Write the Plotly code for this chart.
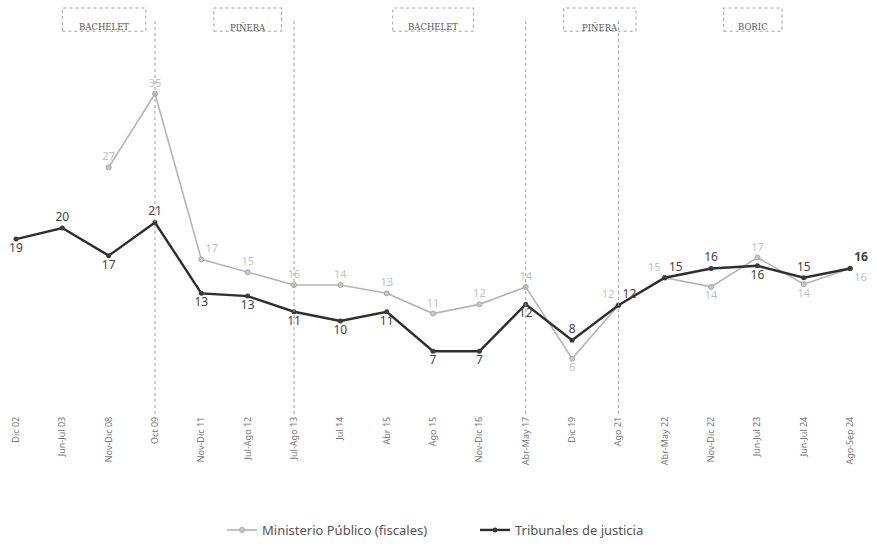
import plotly.graph_objects as go

categories = ["Dic 02", "Jun-Jul 03", "Nov-Dic 08", "Oct 09", "Nov-Dic 11", "Jul-Ago 12",
              "Jul-Ago 13", "Jul 14", "Abr 15", "Ago 15", "Nov-Dic 16", "Abr-May 17",
              "Dic 19", "Ago 21", "Abr-May 22", "Nov-Dic 22", "Jun-Jul 23", "Jun-Jul 24",
              "Ago-Sep 24"]
ministerio = [None, None, 27, 35, 17, 15.6, 14.2, 14.2, 13.3, 11.1, 12.1, 14, 6.2, 12, 15,
              14, 17.2, 14.3, 16]
ministerio_labels = ["", "", "27", "35", "17", "15", "16", "14", "13", "11", "12", "14", "6",
                     "12", "15", "14", "17", "14", "16"]
tribunales = [19.2, 20.4, 17.4, 21, 13.3, 13, 11.3, 10.3, 11.3, 7, 7, 12.1, 8.2, 12, 15,
              16, 16.3, 15, 16]
tribunales_labels = ["19", "20", "17", "21", "13", "13", "11", "10", "11", "7", "7", "12", "8",
                     "12", "15", "16", "16", "15", "<b>16</b>"]
periods = ["BACHELET", "PIÑERA", "BACHELET", "PIÑERA", "BORIC"]
period_centers = [1.9, 5.0, 9.0, 12.6, 15.9]
period_halfwidths = [0.9, 0.73, 0.87, 0.78, 0.63]
period_dividers = [3, 6, 11, 13]

x = list(range(len(categories)))

m_pos = ["top center", "top center", "top center", "top center", "top right", "top center",
         "top center", "top center", "top center", "top center", "top center", "top center",
         "bottom center", "top left", "top left", "bottom center", "top center",
         "bottom center", "bottom right"]
t_pos = ["bottom center", "top center", "bottom center", "top center", "bottom center",
         "bottom center", "bottom center", "bottom center", "bottom center", "bottom center",
         "bottom center", "bottom center", "top center", "top right", "top right", "top center",
         "bottom center", "top center", "top right"]

fig = go.Figure()
fig.add_trace(go.Scatter(
    x=x, y=ministerio, mode="lines+markers+text", name="Ministerio Público (fiscales)",
    line=dict(color="#b5b5b5", width=1.6),
    marker=dict(size=5, color="#c8c8c8", line=dict(color="#a8a8a8", width=1)),
    text=ministerio_labels, textposition=m_pos,
    textfont=dict(family="Noto Sans", size=11, color="#c2c2c2"),
    connectgaps=False,
))
fig.add_trace(go.Scatter(
    x=x, y=tribunales, mode="lines+markers+text", name="Tribunales de justicia",
    line=dict(color="#2e2e2e", width=2.4),
    marker=dict(size=5, color="#3a3a3a"),
    text=tribunales_labels, textposition=t_pos,
    textfont=dict(family="Noto Sans", size=12, color="#444444"),
))

shapes = []
for d in period_dividers:
    shapes.append(dict(type="line", xref="x", yref="paper", x0=d, x1=d, y0=-0.035, y1=0.955,
                       line=dict(color="#a0a0a0", width=1, dash="dot")))
annotations = []
for name, c, hw in zip(periods, period_centers, period_halfwidths):
    shapes.append(dict(type="rect", xref="x", yref="paper", x0=c - hw, x1=c + hw,
                       y0=0.922, y1=0.98, line=dict(color="#a0a0a0", width=1, dash="dot"),
                       fillcolor="rgba(0,0,0,0)"))
    annotations.append(dict(x=c, y=0.951, xref="x", yref="paper", text=name, showarrow=False,
                            font=dict(family="DejaVu Serif", size=8.5, color="#555555")))

fig.update_layout(
    width=877, height=547,
    margin=dict(l=0, r=0, t=0, b=147),
    paper_bgcolor="white", plot_bgcolor="white",
    shapes=shapes, annotations=annotations,
    showlegend=True,
    legend=dict(orientation="h", x=222 / 877, xanchor="left", y=-0.325, yanchor="middle",
                font=dict(family="Noto Sans", size=13, color="#555555"),
                traceorder="normal", itemwidth=30, entrywidth=208, entrywidthmode="pixels"),
    xaxis=dict(range=[-0.345, 18.58], tickmode="array", tickvals=x, ticktext=categories,
               tickangle=-90, tickfont=dict(family="Noto Sans", size=9, color="#777777"),
               showgrid=False, zeroline=False, showline=False, ticks="", ticklabelstandoff=14),
    yaxis=dict(range=[1.7, 45.2], visible=False, showgrid=False, zeroline=False),
)

fig.write_html("out.html")
